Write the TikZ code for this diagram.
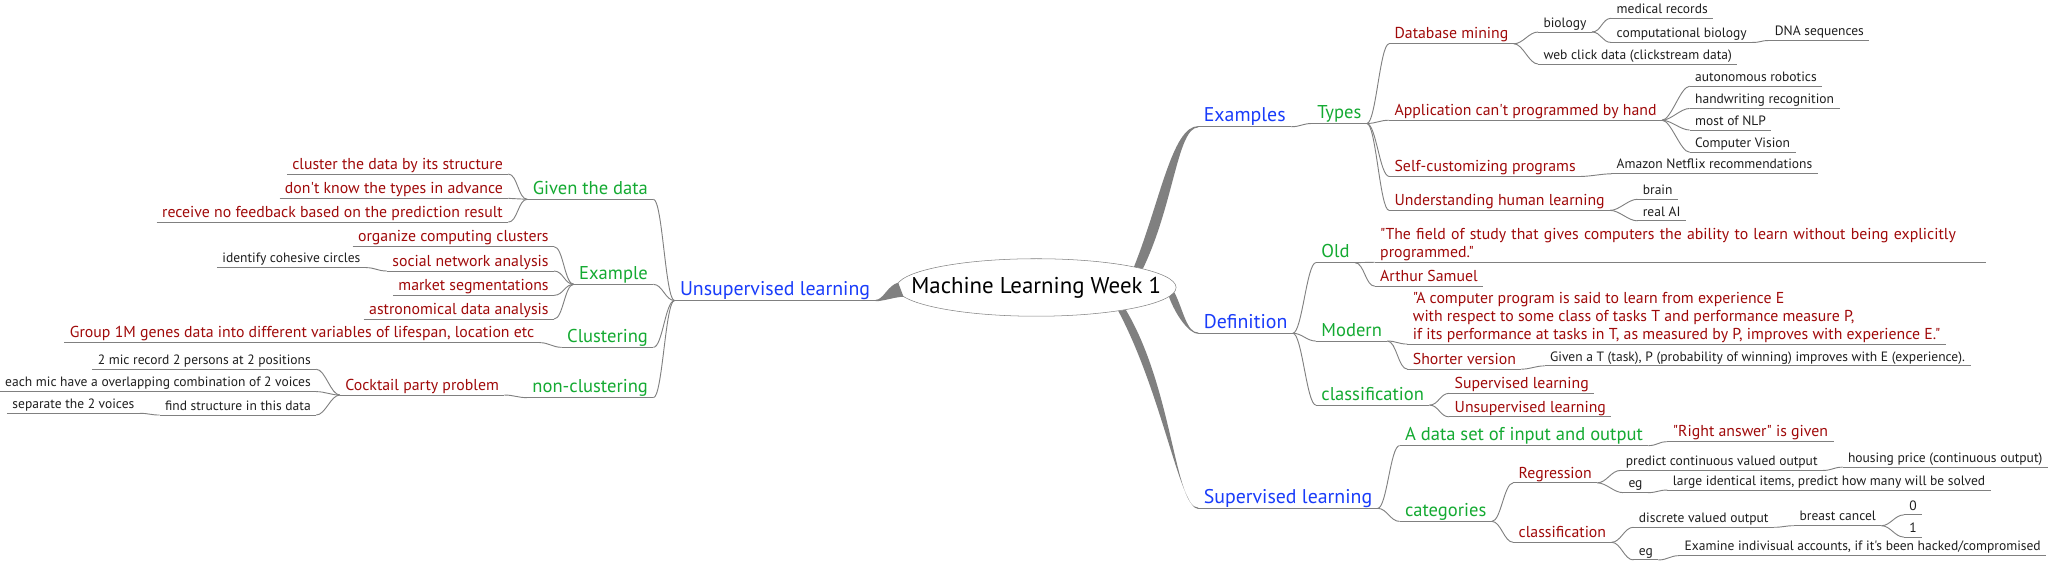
\documentclass[tikz,border=0pt]{standalone}
\usepackage{fontspec}
\setmainfont{PT Sans}[Ligatures=TeXOff]
\usetikzlibrary{shapes.geometric}
\definecolor{topicblue}{RGB}{25,60,250}
\definecolor{branchgreen}{RGB}{20,170,50}
\definecolor{ideared}{RGB}{160,10,10}
\definecolor{detailblack}{RGB}{30,30,30}
\definecolor{linegray}{RGB}{128,128,128}
\begin{document}
\begin{tikzpicture}[x=1pt, y=-1pt,
  every node/.style = {inner xsep=4pt, inner ysep=1pt, text depth=.25em},
  under/.style = {draw=linegray, line width=0.7pt},
  ul/.style = {append after command={(\tikzlastnode.south west) edge[under] (\tikzlastnode.south east)}},
  topic/.style = {ul, text=topicblue, font=\fontsize{15.2}{18}\selectfont},
  branch/.style = {ul, text=branchgreen, font=\fontsize{14.2}{17}\selectfont},
  idea/.style = {ul, text=ideared, font=\fontsize{12.1}{13.8}\selectfont},
  detail/.style = {ul, text=detailblack, font=\fontsize{10.35}{12}\selectfont},
  link/.style = {under, to path={.. controls +(7,0) and +(-7,0) .. (\tikztotarget)}},
  linkl/.style = {under, to path={.. controls +(-7,0) and +(7,0) .. (\tikztotarget)}},
  trunk/.style = {fill=linegray}]
	\fill[white] (0,0) rectangle (1568,430);
	\useasboundingbox (0,0) rectangle (1568,430);

	% centre
	\node[draw=linegray, ellipse, fill=white, minimum width=214, minimum height=44, inner xsep=-22pt, inner ysep=4pt,
	      font=\fontsize{17.5}{20}\selectfont] (cm) at (793,220) {Machine Learning Week 1};

	% examples
	\node[topic, anchor=south west] (ex) at (917,97) {Examples};
	\node[branch, anchor=south west] (types) at (1004,94.5) {Types};
	\node[idea, anchor=south west] (dbm) at (1063,33.5) {Database mining};
	\node[idea, anchor=south west] (app) at (1063,92) {Application can't programmed by hand};
	\node[idea, anchor=south west] (selfc) at (1063,135) {Self-customizing programs};
	\node[idea, anchor=south west] (human) at (1063,161) {Understanding human learning};
	\node[detail, anchor=south west] (bio) at (1177,24.5) {biology};
	\node[detail, anchor=south west] (web) at (1177,49) {web click data (clickstream data)};
	\node[detail, anchor=south west] (medrec) at (1233,14) {medical records};
	\node[detail, anchor=south west] (compbio) at (1233,32.5) {computational biology};
	\node[detail, anchor=south west] (dna) at (1354,31) {DNA sequences};
	\node[detail, anchor=south west] (robot) at (1293,66) {autonomous robotics};
	\node[detail, anchor=south west] (hand) at (1293,83) {handwriting recognition};
	\node[detail, anchor=south west] (nlp) at (1293,99.5) {most of NLP};
	\node[detail, anchor=south west] (vision) at (1293,116.5) {Computer Vision};
	\node[detail, anchor=south west] (amazon) at (1233,133) {Amazon Netflix recommendations};
	\node[detail, anchor=south west] (brain) at (1253,152.5) {brain};
	\node[detail, anchor=south west] (realai) at (1253,169) {real AI};

	% definition
	\node[topic, anchor=south west] (def) at (917,255) {Definition};
	\node[branch, anchor=south west] (old) at (1007,201) {Old};
	\node[branch, anchor=south west] (modern) at (1007,261) {Modern};
	\node[branch, anchor=south west] (classif) at (1007,310) {classification};
	\node[idea, anchor=south west, text depth=, align=left, text width=459] (oldq) at (1052,200.7)
	  {"The field of study that gives computers the ability to learn without being explicitly\\programmed."};
	\node[idea, anchor=south west] (samuel) at (1052,219) {Arthur Samuel};
	\node[idea, anchor=south west, text depth=, align=left] (modq) at (1077,263.3)
	  {"A computer program is said to learn from experience E\\with respect to some class of tasks T and performance measure P,\\if its performance at tasks in T, as measured by P, improves with experience E."};
	\node[idea, anchor=south west] (shorter) at (1077,282.5) {Shorter version};
	\node[detail, anchor=south west] (givent) at (1182,280) {Given a T (task), P (probability of winning) improves with E (experience).};
	\node[idea, anchor=south west] (supc) at (1109,301) {Supervised learning};
	\node[idea, anchor=south west] (unsupc) at (1109,319) {Unsupervised learning};

	% supervised
	\node[topic, anchor=south west] (supl) at (917,389) {Supervised learning};
	\node[branch, anchor=south west] (dataset) at (1071,341) {A data set of input and output};
	\node[branch, anchor=south west] (cat) at (1071,399) {categories};
	\node[idea, anchor=south west] (rightans) at (1276,338) {"Right answer" is given};
	\node[idea, anchor=south west] (regr) at (1158,369.5) {Regression};
	\node[idea, anchor=south west] (classf) at (1158,415) {classification};
	\node[detail, anchor=south west] (predict) at (1240,360) {predict continuous valued output};
	\node[detail, anchor=south west] (egr) at (1242,377) {eg};
	\node[detail, anchor=south west] (housing) at (1410,357.5) {housing price (continuous output)};
	\node[detail, anchor=south west] (large) at (1276,375) {large identical items, predict how many will be solved};
	\node[detail, anchor=south west] (discrete) at (1250,403.5) {discrete valued output};
	\node[detail, anchor=south west] (egc) at (1250,428.5) {eg};
	\node[detail, anchor=south west] (breast) at (1373,402.3) {breast cancel};
	\node[detail, anchor=south west] (zero) at (1457,394) {0};
	\node[detail, anchor=south west] (one) at (1457,411) {1};
	\node[detail, anchor=south west] (examine) at (1285,425.2) {Examine indivisual accounts, if it's been hacked/compromised};

	% unsupervised
	\node[topic, anchor=south east] (unsl) at (670,230) {Unsupervised learning};
	\node[branch, anchor=south east] (givend) at (500,152.5) {Given the data};
	\node[branch, anchor=south east] (exmp) at (500,217.6) {Example};
	\node[branch, anchor=south east] (clus) at (500,265.8) {Clustering};
	\node[branch, anchor=south east] (noncl) at (500,304.3) {non-clustering};
	\node[idea, anchor=south east] (c1) at (389,133.2) {cluster the data by its structure};
	\node[idea, anchor=south east] (c2) at (389,151.8) {don't know the types in advance};
	\node[idea, anchor=south east] (c3) at (389,170) {receive no feedback based on the prediction result};
	\node[idea, anchor=south east] (e1) at (424,188.8) {organize computing clusters};
	\node[idea, anchor=south east] (e2) at (424,207.4) {social network analysis};
	\node[idea, anchor=south east] (e3) at (424,226) {market segmentations};
	\node[idea, anchor=south east] (e4) at (424,244.1) {astronomical data analysis};
	\node[detail, anchor=south east] (circles) at (280,204.8) {identify cohesive circles};
	\node[idea, anchor=south east] (genes) at (413,262.2) {Group 1M genes data into different variables of lifespan, location etc};
	\node[idea, anchor=south east] (cocktail) at (386,302.3) {Cocktail party problem};
	\node[detail, anchor=south east] (mic1) at (242,282.6) {2 mic record 2 persons at 2 positions};
	\node[detail, anchor=south east] (mic2) at (242,299.7) {each mic have a overlapping combination of 2 voices};
	\node[detail, anchor=south east] (findst) at (242,317.6) {find structure in this data};
	\node[detail, anchor=south east] (separ) at (107,316.3) {separate the 2 voices};

	% thick main branches
	\fill[trunk] (cm.12) .. controls +(20,-50) and +(-20,0) .. ([yshift=0.5]ex.south west)
	  -- ([yshift=-0.5]ex.south west) .. controls +(-16,0) and +(24,-50) .. (cm.10) -- cycle;
	\fill[trunk] (cm.-2) .. controls +(7,14) and +(-9,0) .. ([yshift=0.5]def.south west)
	  -- ([yshift=-0.5]def.south west) .. controls +(-7,0) and +(5,14) .. (cm.-4) -- cycle;
	\fill[trunk] (cm.-14) .. controls +(36,60) and +(-18,0) .. ([yshift=0.5]supl.south west)
	  -- ([yshift=-0.5]supl.south west) .. controls +(-14,0) and +(34,64) .. (cm.-16) -- cycle;
	\fill[trunk] (cm.178) .. controls +(-8,2) and +(6,0) .. ([yshift=0.5]unsl.south east)
	  -- ([yshift=-0.5]unsl.south east) .. controls +(6,0) and +(-6,0) .. (cm.184) -- cycle;

	% connectors, right side
	\draw[link] (ex.south east) to (types.south west);
	\draw[link] (types.south east) to (dbm.south west);
	\draw[link] (types.south east) to (app.south west);
	\draw[link] (types.south east) to (selfc.south west);
	\draw[link] (types.south east) to (human.south west);
	\draw[link] (dbm.south east) to (bio.south west);
	\draw[link] (dbm.south east) to (web.south west);
	\draw[link] (bio.south east) to (medrec.south west);
	\draw[link] (bio.south east) to (compbio.south west);
	\draw[link] (compbio.south east) to (dna.south west);
	\draw[link] (app.south east) to (robot.south west);
	\draw[link] (app.south east) to (hand.south west);
	\draw[link] (app.south east) to (nlp.south west);
	\draw[link] (app.south east) to (vision.south west);
	\draw[link] (selfc.south east) to (amazon.south west);
	\draw[link] (human.south east) to (brain.south west);
	\draw[link] (human.south east) to (realai.south west);
	\draw[link] (def.south east) to (old.south west);
	\draw[link] (def.south east) to (modern.south west);
	\draw[link] (def.south east) to (classif.south west);
	\draw[link] (old.south east) to (oldq.south west);
	\draw[link] (old.south east) to (samuel.south west);
	\draw[link] (modern.south east) to (modq.south west);
	\draw[link] (modern.south east) to (shorter.south west);
	\draw[link] (shorter.south east) to (givent.south west);
	\draw[link] (classif.south east) to (supc.south west);
	\draw[link] (classif.south east) to (unsupc.south west);
	\draw[link] (supl.south east) to (dataset.south west);
	\draw[link] (supl.south east) to (cat.south west);
	\draw[link] (dataset.south east) to (rightans.south west);
	\draw[link] (cat.south east) to (regr.south west);
	\draw[link] (cat.south east) to (classf.south west);
	\draw[link] (regr.south east) to (predict.south west);
	\draw[link] (regr.south east) to (egr.south west);
	\draw[link] (predict.south east) to (housing.south west);
	\draw[link] (egr.south east) to (large.south west);
	\draw[link] (classf.south east) to (discrete.south west);
	\draw[link] (classf.south east) to (egc.south west);
	\draw[link] (discrete.south east) to (breast.south west);
	\draw[link] (breast.south east) to (zero.south west);
	\draw[link] (breast.south east) to (one.south west);
	\draw[link] (egc.south east) to (examine.south west);

	% connectors, left side
	\draw[linkl] (unsl.south west) to (givend.south east);
	\draw[linkl] (unsl.south west) to (exmp.south east);
	\draw[linkl] (unsl.south west) to (clus.south east);
	\draw[linkl] (unsl.south west) to (noncl.south east);
	\draw[linkl] (givend.south west) to (c1.south east);
	\draw[linkl] (givend.south west) to (c2.south east);
	\draw[linkl] (givend.south west) to (c3.south east);
	\draw[linkl] (exmp.south west) to (e1.south east);
	\draw[linkl] (exmp.south west) to (e2.south east);
	\draw[linkl] (exmp.south west) to (e3.south east);
	\draw[linkl] (exmp.south west) to (e4.south east);
	\draw[linkl] (e2.south west) to (circles.south east);
	\draw[linkl] (clus.south west) to (genes.south east);
	\draw[linkl] (noncl.south west) to (cocktail.south east);
	\draw[linkl] (cocktail.south west) to (mic1.south east);
	\draw[linkl] (cocktail.south west) to (mic2.south east);
	\draw[linkl] (cocktail.south west) to (findst.south east);
	\draw[linkl] (findst.south west) to (separ.south east);
\end{tikzpicture}
\end{document}
